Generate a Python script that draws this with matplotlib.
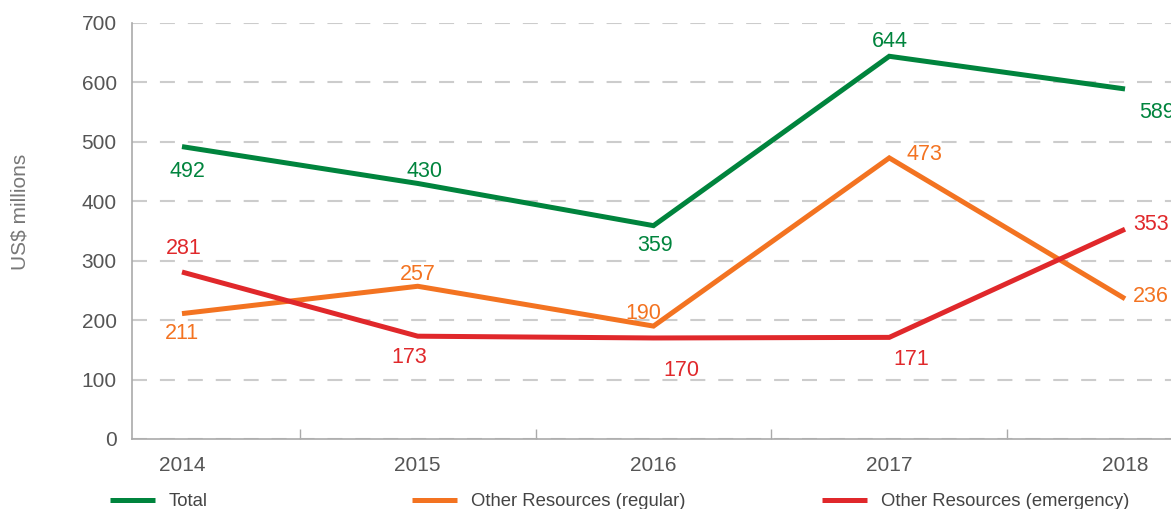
import matplotlib
matplotlib.use('Agg')
import matplotlib.pyplot as plt
from matplotlib.lines import Line2D

years = ['2014', '2015', '2016', '2017', '2018']
total = [492, 430, 359, 644, 589]
regular = [211, 257, 190, 473, 236]
emergency = [281, 173, 170, 171, 353]

series_names = ['Total', 'Other Resources (regular)', 'Other Resources (emergency)']
colors = ['#00843d', '#f37321', '#e0282b']

# label offsets in pixels (dx, dy), ha
offsets = {
    'Total': [(5, -25, 'center'), (7, 12, 'center'), (2, -20, 'center'), (1, 15, 'center'), (14, -24, 'left')],
    'Other Resources (regular)': [(0, -20, 'center'), (0, 12, 'center'), (-10, 13, 'center'), (17, 3, 'left'), (8, 2, 'left')],
    'Other Resources (emergency)': [(2, 24, 'center'), (-8, -21, 'center'), (28, -33, 'center'), (22, -22, 'center'), (8, 5, 'left')],
}

plt.rcParams['font.family'] = ['Liberation Sans', 'DejaVu Sans']

fig = plt.figure(figsize=(11.71, 5.09), dpi=100)
ax = fig.add_axes([132/1171, 70/509, 1 - 132/1171, 416/509])

x = list(range(len(years)))
handles = []
for name, vals, col in zip(series_names, [total, regular, emergency], colors):
    ln, = ax.plot(x, vals, color=col, lw=3.6, solid_capstyle='butt', solid_joinstyle='miter', zorder=3)
    handles.append(ln)
    for xi, v, (dx, dy, ha) in zip(x, vals, offsets[name]):
        ax.annotate(str(v), (xi, v), xytext=(dx, dy), textcoords='offset pixels',
                    ha=ha, va='center', color=col, fontsize=15.5, annotation_clip=False)

ax.set_xlim(-0.212, 4.195)
ax.set_ylim(0, 700)
ax.set_yticks(range(0, 701, 100))
ax.set_xticks(x)
ax.set_xticklabels(years)
ax.set_xticks([0.5, 1.5, 2.5, 3.5], minor=True)
ax.tick_params(axis='both', which='major', length=0, labelsize=15, labelcolor='#555555')
ax.tick_params(axis='y', pad=11)
ax.tick_params(axis='x', pad=12)
ax.tick_params(axis='x', which='minor', direction='in', length=7, width=1, color='#aaaaaa')

ax.yaxis.grid(True, color='#cccccc', lw=1.5, linestyle=(0, (7.2, 6.2)))
ax.set_axisbelow(True)
for s in ['top', 'right']:
    ax.spines[s].set_visible(False)
for s in ['left', 'bottom']:
    ax.spines[s].set_color('#aaaaaa')
    ax.spines[s].set_linewidth(1.2)

fig.text(20/1171, 1 - 212/509, 'US$ millions', rotation=90, ha='center', va='center',
         fontsize=15, color='#777777')

leg_x = [110, 412, 822]
for h, name, lx in zip(handles, series_names, leg_x):
    fig.legend(handles=[Line2D([], [], color=h.get_color(), lw=3.6, solid_capstyle='butt')], labels=[name],
               loc='center left', bbox_to_anchor=(lx/1171, 1 - 502/509), frameon=False,
               handlelength=2.43, handletextpad=0.75, borderpad=0, borderaxespad=0,
               fontsize=13.3, labelcolor='#444444')

fig.savefig('out.png', dpi=100)
